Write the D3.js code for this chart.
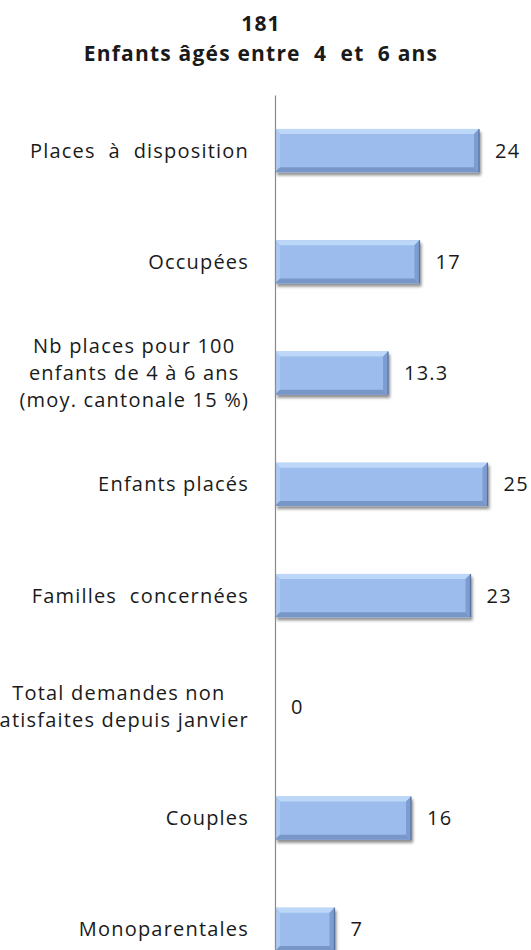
<!DOCTYPE html>
<meta charset="utf-8">
<style>
  body { margin: 0; background: #fff; }
  text { font-family: "Open Sans", sans-serif; fill: #1a1a1a; white-space: pre; }
  .title { font-weight: bold; font-size: 21px; letter-spacing: 1.2px; }
  .cat { font-size: 20px; letter-spacing: 1.2px; }
  .val { font-size: 20px; letter-spacing: 1.2px; }
  .axis .domain { stroke: #8a8a8a; stroke-width: 1.2px; }
</style>
<svg width="531" height="950"></svg>
<script src="https://d3js.org/d3.v7.min.js"></script>
<script>

// chart data
var titleLines = ["181", "Enfants âgés entre  4  et  6 ans"];
var categories = [
  ["Places  à  disposition"],
  ["Occupées"],
  ["Nb places pour 100", "enfants de 4 à 6 ans", "(moy. cantonale 15 %)"],
  ["Enfants placés"],
  ["Familles  concernées"],
  ["Total demandes non", "satisfaites depuis janvier"],
  ["Couples"],
  ["Monoparentales"]
];
var values = [24, 17, 13.3, 25, 23, 0, 16, 7];
var valueLabels = ["24", "17", "13.3", "25", "23", "0", "16", "7"];

var svg = d3.select("svg"),
    width = +svg.attr("width"),
    height = +svg.attr("height");

var axisX = 275;

var y = d3.scaleBand()
    .domain(d3.range(categories.length))
    .range([95, 985])
    .paddingInner(0.61)
    .paddingOuter(0.305);

var x = d3.scaleLinear()
    .domain([0, 25])
    .range([axisX, axisX + 212.5]);

// drop shadow for the bars
var defs = svg.append("defs");
var f = defs.append("filter").attr("id", "shadow")
    .attr("x", "-10%").attr("y", "-20%").attr("width", "130%").attr("height", "160%");
f.append("feGaussianBlur").attr("in", "SourceAlpha").attr("stdDeviation", 1.6);
f.append("feOffset").attr("dx", 1.5).attr("dy", 2.5).attr("result", "off");
f.append("feComponentTransfer").append("feFuncA").attr("type", "linear").attr("slope", 0.45);
var m = f.append("feMerge");
m.append("feMergeNode");
m.append("feMergeNode").attr("in", "SourceGraphic");

// title
svg.selectAll(".title")
  .data(titleLines)
  .enter().append("text")
    .attr("class", "title")
    .attr("x", 261)
    .attr("y", function(d, i) { return 31 + i * 30; })
    .attr("text-anchor", "middle")
    .text(function(d) { return d; });

// bars with an excel-like bevel
var bev = 5;
var bars = svg.selectAll(".bar")
  .data(values)
  .enter().append("g")
    .attr("class", "bar")
    .filter(function(d) { return d > 0; });

bars.each(function(d) {
  var g = d3.select(this);
  var idx = values.indexOf(d);
  var x0 = x(0), x1 = x(d), y0 = y(idx), y1 = y(idx) + y.bandwidth();
  var b = Math.min(bev, (x1 - x0) / 2);
  g.append("rect")
    .attr("x", x0).attr("y", y0)
    .attr("width", x1 - x0).attr("height", y1 - y0)
    .attr("fill", "#9bbcec")
    .attr("filter", "url(#shadow)");
  // top face
  g.append("polygon")
    .attr("points", [[x0, y0], [x1, y0], [x1 - b, y0 + b], [x0 + b, y0 + b]].join(" "))
    .attr("fill", "#bcd7f7");
  // left face
  g.append("polygon")
    .attr("points", [[x0, y0], [x0 + b, y0 + b], [x0 + b, y1 - b], [x0, y1]].join(" "))
    .attr("fill", "#adc9f1");
  // right face
  g.append("polygon")
    .attr("points", [[x1, y0], [x1, y1], [x1 - b, y1 - b], [x1 - b, y0 + b]].join(" "))
    .attr("fill", "#7d9dd2");
  // bottom face
  g.append("polygon")
    .attr("points", [[x0, y1], [x1, y1], [x1 - b, y1 - b], [x0 + b, y1 - b]].join(" "))
    .attr("fill", "#7896c8");
  g.append("line")
    .attr("x1", x1).attr("x2", x1).attr("y1", y0).attr("y2", y1)
    .attr("stroke", "#56739f").attr("stroke-width", 1.2);
});

// value labels
svg.selectAll(".val")
  .data(values)
  .enter().append("text")
    .attr("class", "val")
    .attr("x", function(d) { return x(d) + 16; })
    .attr("y", function(d, i) { return y(i) + y.bandwidth() / 2; })
    .attr("dy", "0.35em")
    .text(function(d, i) { return valueLabels[i]; });

// category labels, lines centred, block right-aligned to the axis
var labelRight = axisX - 26;
var lineH = 27;
svg.selectAll(".cat")
  .data(categories)
  .enter().append("text")
    .attr("class", "cat")
    .each(function(lines, i) {
      var t = d3.select(this);
      var cy = y(i) + y.bandwidth() / 2;
      var n = lines.length;
      var spans = t.selectAll("tspan")
        .data(lines)
        .enter().append("tspan")
          .attr("y", function(d, j) { return cy + (j - (n - 1) / 2) * lineH; })
          .attr("dy", "0.35em")
          .text(function(d) { return d; });
      var maxW = 0;
      spans.each(function() { maxW = Math.max(maxW, this.getComputedTextLength()); });
      if (n === 1) {
        spans.attr("x", labelRight).attr("text-anchor", "end");
      } else {
        spans.attr("x", labelRight - maxW / 2).attr("text-anchor", "middle");
      }
    });

// vertical axis line only
svg.append("g")
    .attr("class", "axis")
    .attr("transform", "translate(" + axisX + ",0)")
    .call(d3.axisLeft(y).tickSize(0).tickSizeOuter(0).tickFormat(""));

</script>
